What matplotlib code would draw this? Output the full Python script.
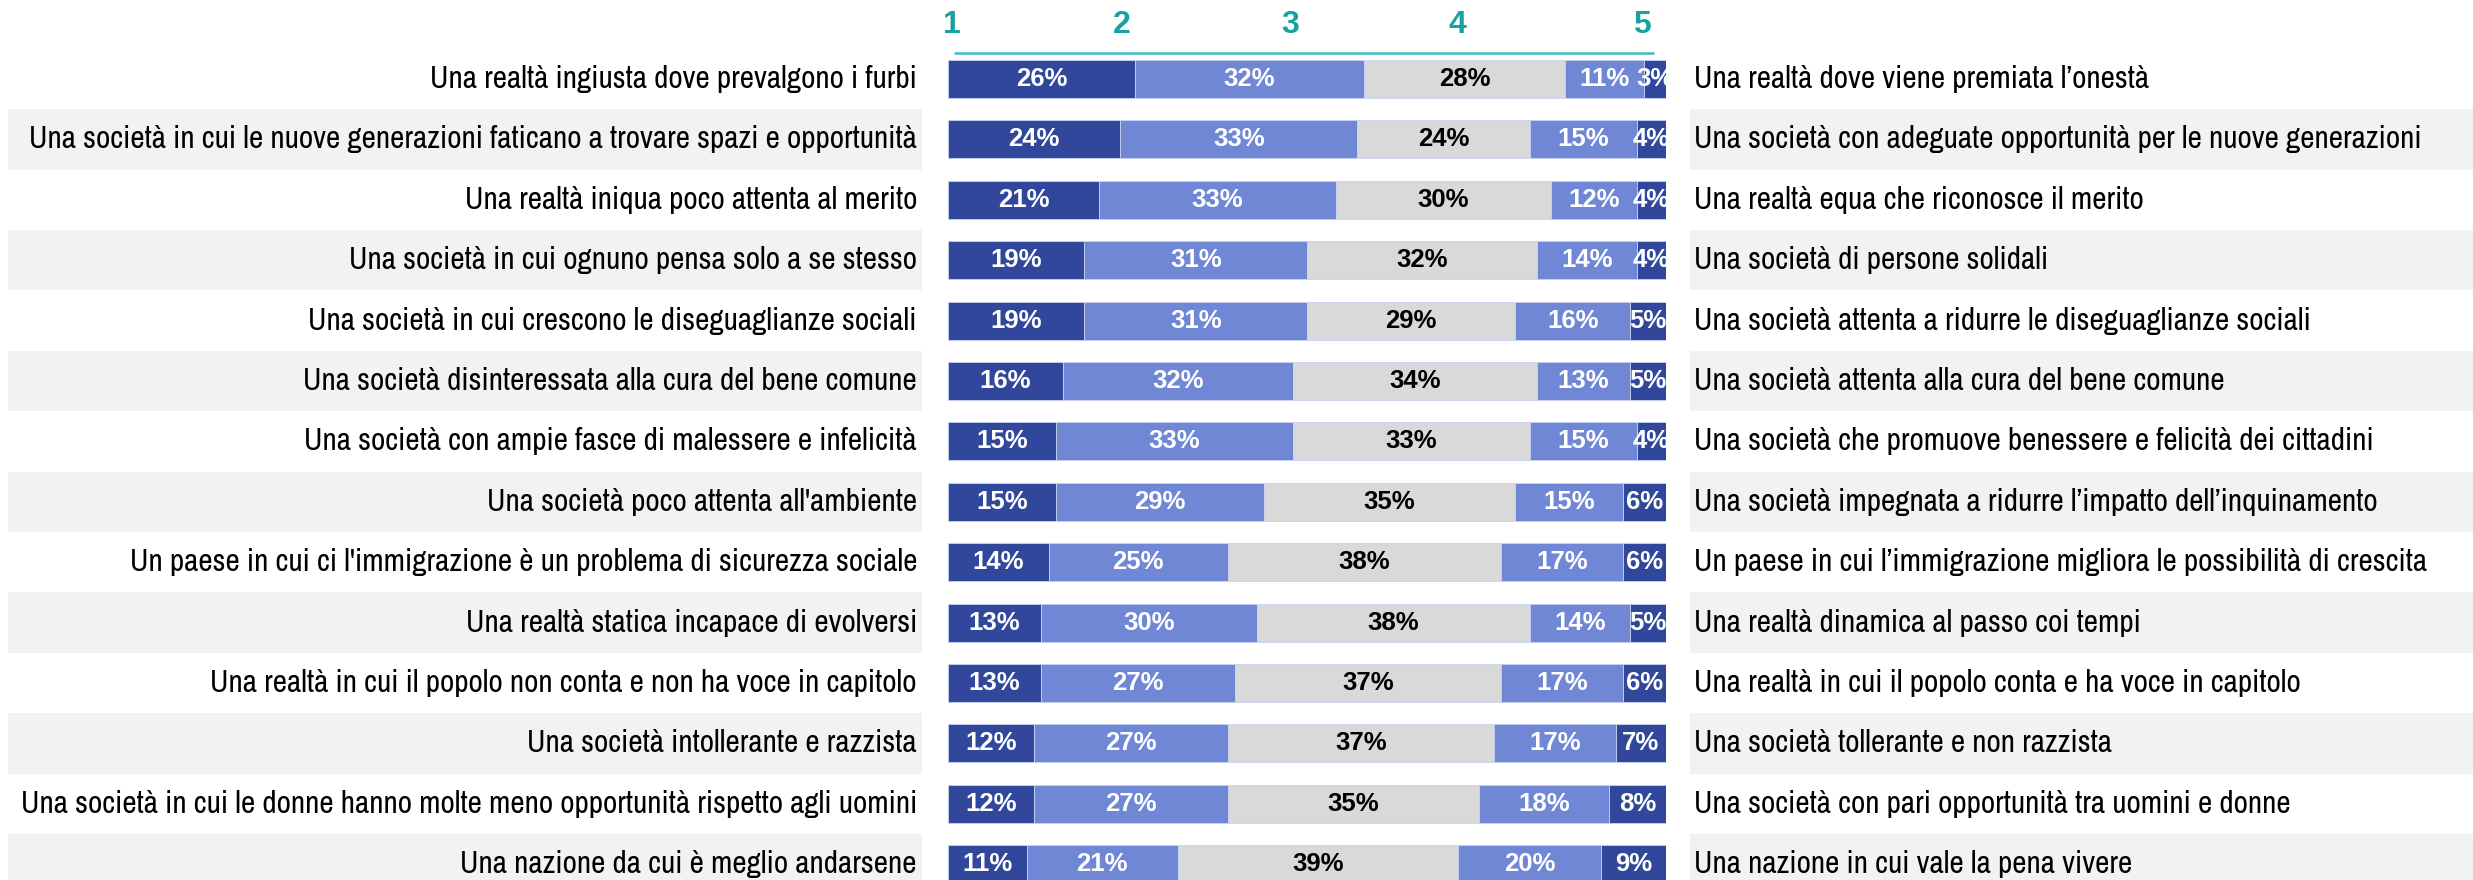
import matplotlib
matplotlib.use("Agg")
import matplotlib.pyplot as plt
from matplotlib.patches import Rectangle
import matplotlib.transforms as mtrans

left_labels = [
    "Una realtà ingiusta dove prevalgono i furbi",
    "Una società in cui le nuove generazioni faticano a trovare spazi e opportunità",
    "Una realtà iniqua poco attenta al merito",
    "Una società in cui ognuno pensa solo a se stesso",
    "Una società in cui crescono le diseguaglianze sociali",
    "Una società disinteressata alla cura del bene comune",
    "Una società con ampie fasce di malessere e infelicità",
    "Una società poco attenta all'ambiente",
    "Un paese in cui ci l'immigrazione è un problema di sicurezza sociale",
    "Una realtà statica incapace di evolversi",
    "Una realtà in cui il popolo non conta e non ha voce in capitolo",
    "Una società intollerante e razzista",
    "Una società in cui le donne hanno molte meno opportunità rispetto agli uomini",
    "Una nazione da cui è meglio andarsene",
]
right_labels = [
    "Una realtà dove viene premiata l\u2019onestà",
    "Una società con adeguate opportunità per le nuove generazioni",
    "Una realtà equa che riconosce il merito",
    "Una società di persone solidali",
    "Una società attenta a ridurre le diseguaglianze sociali",
    "Una società attenta alla cura del bene comune",
    "Una società che promuove benessere e felicità dei cittadini",
    "Una società impegnata a ridurre l\u2019impatto dell\u2019inquinamento",
    "Un paese in cui l\u2019immigrazione migliora le possibilità di crescita",
    "Una realtà dinamica al passo coi tempi",
    "Una realtà in cui il popolo conta e ha voce in capitolo",
    "Una società tollerante e non razzista",
    "Una società con pari opportunità tra uomini e donne",
    "Una nazione in cui vale la pena vivere",
]
scale_labels = ["1", "2", "3", "4", "5"]
v1 = [26, 24, 21, 19, 19, 16, 15, 15, 14, 13, 13, 12, 12, 11]
v2 = [32, 33, 33, 31, 31, 32, 33, 29, 25, 30, 27, 27, 27, 21]
v3 = [28, 24, 30, 32, 29, 34, 33, 35, 38, 38, 37, 37, 35, 39]
v4 = [11, 15, 12, 14, 16, 13, 15, 15, 17, 14, 17, 17, 18, 20]
v5 = [3, 4, 4, 4, 5, 5, 4, 6, 6, 5, 6, 7, 8, 9]

series = [v1, v2, v3, v4, v5]
colors = ["#30479B", "#7087D6", "#D9D9D9", "#7087D6", "#30479B"]
txt_colors = ["white", "white", "black", "white", "white"]

NARROW = ["Archivo Narrow", "Roboto Condensed", "Liberation Sans", "DejaVu Sans"]
BOLD = ["Liberation Sans", "DejaVu Sans"]

W, H = 2473, 880
fig = plt.figure(figsize=(W / 100, H / 100), dpi=100)
fig.patch.set_facecolor("white")

pitch = 60.4
row0 = 79.0
ax = fig.add_axes([948 / W, 0, 718 / W, 1])
ax.set_xlim(0, 100)
ax.set_ylim((H - row0) / pitch, -row0 / pitch)
ax.axis("off")

n = len(left_labels)
rows = list(range(n))

# stripes
blend = mtrans.blended_transform_factory(fig.transFigure, ax.transData)
for i in rows:
    if i % 2 == 1:
        ax.add_patch(Rectangle((8 / W, i - 0.5), (922 - 8) / W, 1.0, transform=blend,
                               facecolor="#F2F2F2", edgecolor="none", clip_on=False, zorder=0))
        ax.add_patch(Rectangle((1690 / W, i - 0.5), 1 - 1690 / W, 1.0, transform=blend,
                               facecolor="#F2F2F2", edgecolor="none", clip_on=False, zorder=0))

left = [0] * n
for k, vals in enumerate(series):
    bars = ax.barh(rows, vals, left=left, height=0.63, color=colors[k],
                   edgecolor="#C9D2F0", linewidth=0.6, zorder=2)
    for i, (b, v) in enumerate(zip(bars, vals)):
        cx = left[i] + v / 2
        ax.text(cx, i, f"{v}%", ha="center", va="center", color=txt_colors[k],
                fontsize=18.5, fontweight="bold", family=BOLD, zorder=3, clip_on=False)
    left = [a + b for a, b in zip(left, vals)]

# left/right labels
for i in rows:
    ax.text(917 / W, i, left_labels[i], transform=blend, ha="right", va="center",
            fontsize=22.5, family=NARROW, color="black", clip_on=False)
    ax.text(1694 / W, i, right_labels[i], transform=blend, ha="left", va="center",
            fontsize=22.5, family=NARROW, color="black", clip_on=False)

# header scale
scale_x = [0.6, 24.2, 47.6, 71.0, 96.6]
y_num = (25 - row0) / pitch
y_line = (53 - row0) / pitch
for s, x in zip(scale_labels, scale_x):
    ax.text(x, y_num, s, ha="center", va="center", color="#14A3A0", fontsize=23,
            fontweight="bold", family=BOLD, clip_on=False)
ax.plot([0.8, 98.3], [y_line, y_line], color="#3DBFBF", lw=1.8, clip_on=False,
        solid_capstyle="butt")

fig.savefig("out.png", dpi=100, facecolor="white")
